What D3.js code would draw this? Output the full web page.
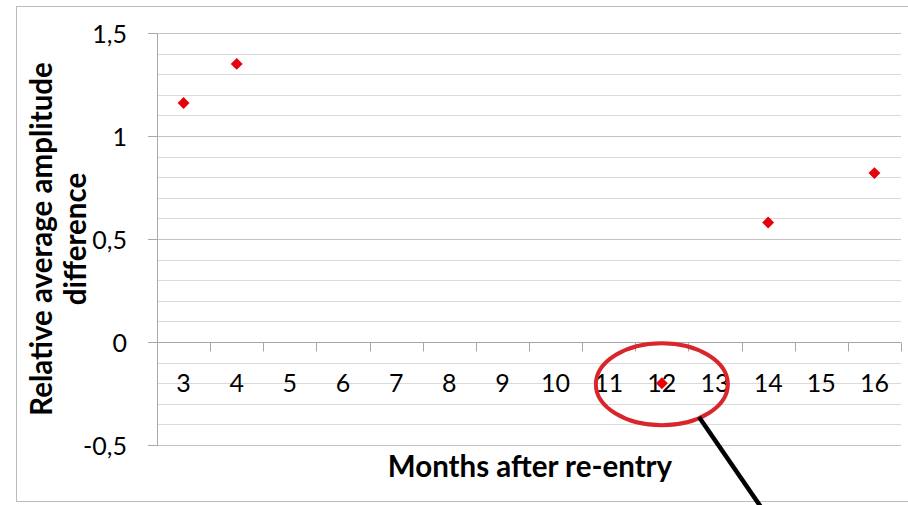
<!DOCTYPE html>
<html lang="en">
<head>
  <meta charset="UTF-8">
  <title>Relative average amplitude difference</title>
  <script src="https://d3js.org/d3.v7.min.js"></script>
  <style>
    body { margin: 0; background: #fff; font-family: Lato, "Open Sans", sans-serif; }
    .tick text { font-family: Lato, "Open Sans", sans-serif; fill: #000; }
    .title { font-family: Lato, "Open Sans", sans-serif; font-weight: bold; fill: #000; }
  </style>
</head>
<body>
  <svg width="908" height="505"></svg>

  <script>
    // data
    const months = [3, 4, 5, 6, 7, 8, 9, 10, 11, 12, 13, 14, 15, 16];
    const pointMonths = [3, 4, 12, 14, 16];
    const pointValues = [1.16, 1.35, -0.2, 0.58, 0.82];
    const yTicks = [-0.5, 0, 0.5, 1, 1.5];
    const yMinor = [-0.4, -0.3, -0.2, -0.1, 0.1, 0.2, 0.3, 0.4, 0.6, 0.7, 0.8, 0.9, 1.1, 1.2, 1.3, 1.4];

    const svg = d3.select("svg"),
          margin = {top: 33, right: 7, bottom: 60, left: 157},
          width = +svg.attr("width") - margin.left - margin.right,
          height = +svg.attr("height") - margin.top - margin.bottom;

    // outer chart border (right side is cut off in the picture)
    svg.append("rect")
      .attr("x", 16.5).attr("y", 6.5)
      .attr("width", 1000).attr("height", 495)
      .attr("fill", "none").attr("stroke", "#bcbcbc");

    const g = svg.append("g").attr("transform", `translate(${margin.left},${margin.top})`);

    const x = d3.scaleBand().domain(months).range([0, width]);
    const y = d3.scaleLinear().domain([-0.5, 1.5]).range([height, 0]);

    const comma = d3.formatLocale({decimal: ",", thousands: ".", grouping: [3], currency: ["", ""], minus: "-"}).format("~g");

    // minor gridlines
    g.append("g")
      .selectAll("line")
      .data(yMinor)
      .enter().append("line")
      .attr("x1", 0).attr("x2", width)
      .attr("y1", d => Math.round(y(d)) + 0.5).attr("y2", d => Math.round(y(d)) + 0.5)
      .attr("stroke", "#dadada");

    // major gridlines
    g.append("g")
      .selectAll("line")
      .data(yTicks)
      .enter().append("line")
      .attr("x1", 0).attr("x2", width)
      .attr("y1", d => Math.round(y(d)) + 0.5).attr("y2", d => Math.round(y(d)) + 0.5)
      .attr("stroke", "#c4c4c4");

    // value axis
    const yAxis = g.append("g")
      .call(d3.axisLeft(y).tickValues(yTicks).tickSize(9).tickPadding(21).tickFormat(comma));
    yAxis.select(".domain").attr("stroke", "#a8a8a8");
    yAxis.selectAll(".tick line").attr("stroke", "#a8a8a8");
    yAxis.selectAll(".tick text").style("font-size", "25px").attr("dy", "0.36em");

    // category axis crossing at 0
    const xAxis = g.append("g")
      .attr("transform", `translate(0,${Math.round(y(0)) + 0.5})`)
      .call(d3.axisBottom(x).tickSize(0).tickPadding(32));
    xAxis.select(".domain").remove();
    xAxis.selectAll(".tick text").style("font-size", "25px");

    xAxis.append("line")
      .attr("x1", -9).attr("x2", width)
      .attr("stroke", "#a8a8a8");

    xAxis.selectAll(".boundary")
      .data(months.slice(1).map(m => x(m)).concat([width]))
      .enter().append("line")
      .attr("class", "boundary")
      .attr("x1", d => Math.round(d) + 0.5).attr("x2", d => Math.round(d) + 0.5)
      .attr("y1", 0).attr("y2", 9)
      .attr("stroke", "#a8a8a8");

    // diamond markers
    const diamond = d3.symbol().type(d3.symbolDiamond2).size(90);
    g.selectAll(".pt")
      .data(pointMonths.map((m, i) => ({m, v: pointValues[i]})))
      .enter().append("path")
      .attr("class", "pt")
      .attr("d", diamond)
      .attr("transform", d => `translate(${x(d.m) + x.bandwidth() / 2},${y(d.v)})`)
      .attr("fill", "#e8000b");

    // axis titles
    svg.append("text")
      .attr("class", "title")
      .attr("transform", "translate(42,239) rotate(-90)")
      .attr("text-anchor", "middle")
      .attr("dy", "0.35em")
      .style("font-size", "29.5px")
      .text("Relative average amplitude");
    svg.append("text")
      .attr("class", "title")
      .attr("transform", "translate(76,239) rotate(-90)")
      .attr("text-anchor", "middle")
      .attr("dy", "0.35em")
      .style("font-size", "29.5px")
      .text("difference");

    svg.append("text")
      .attr("class", "title")
      .attr("x", 530).attr("y", 467)
      .attr("text-anchor", "middle")
      .attr("dy", "0.35em")
      .style("font-size", "29.5px")
      .text("Months after re-entry");

    // annotation: circle round month 12 and pointer line
    const cx = x(12) + x.bandwidth() / 2, cy = y(-0.2);
    svg.append("ellipse")
      .attr("cx", margin.left + cx).attr("cy", margin.top + cy + 1)
      .attr("rx", 66).attr("ry", 41)
      .attr("fill", "none").attr("stroke", "#d8262c").attr("stroke-width", 4);

    svg.append("line")
      .attr("x1", 699).attr("y1", 417)
      .attr("x2", 763).attr("y2", 510)
      .attr("stroke", "#000").attr("stroke-width", 4.5);
  </script>
</body>
</html>
